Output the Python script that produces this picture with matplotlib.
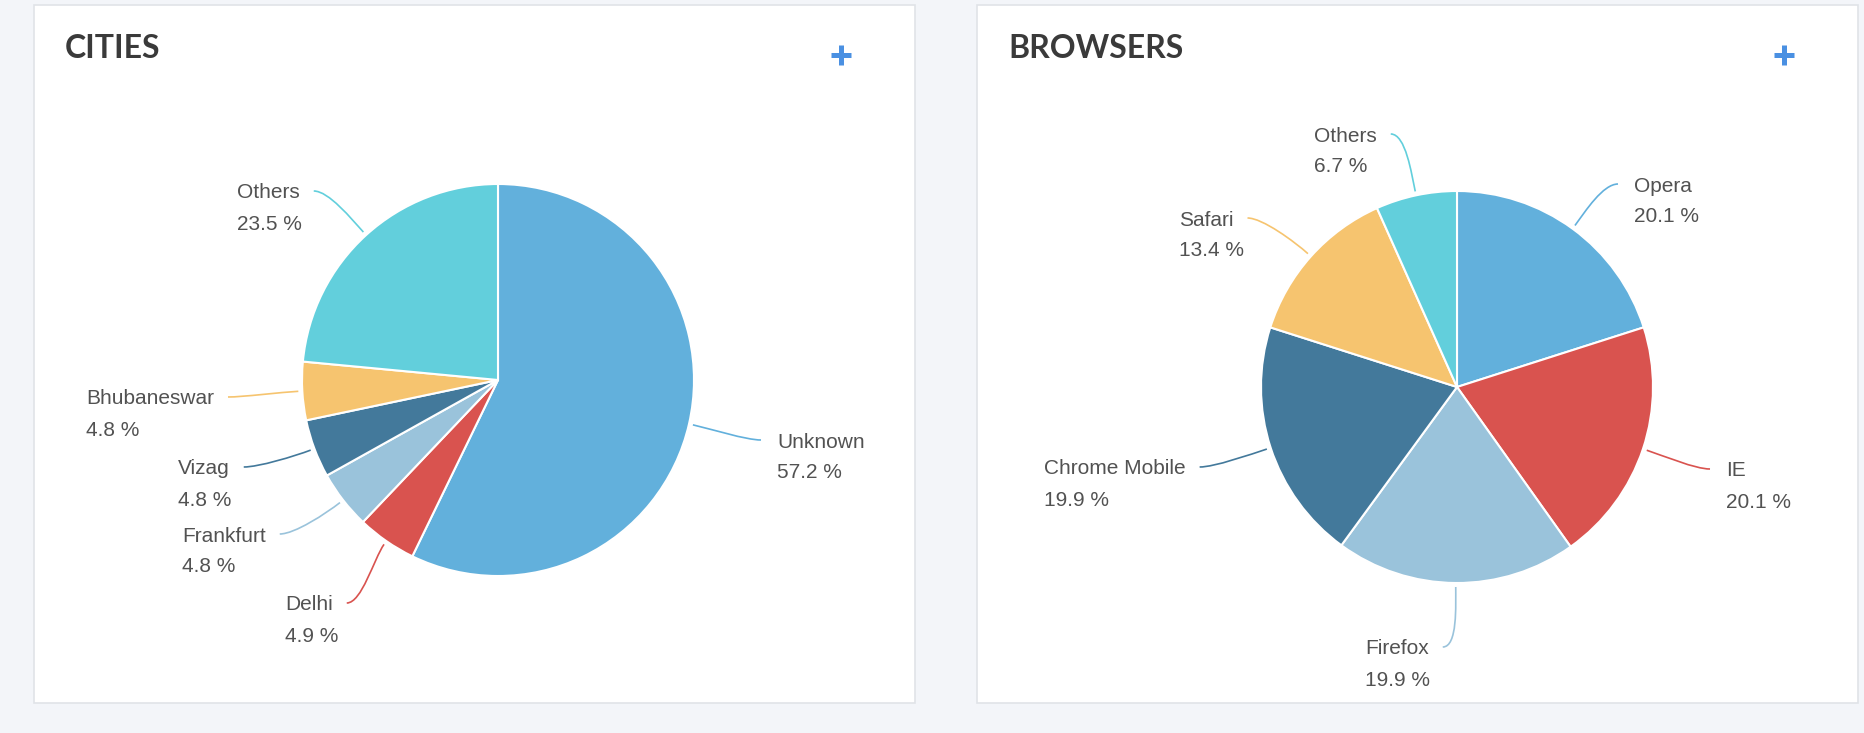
#!/usr/bin/env python3
"""Dashboard cards: cities and browsers share as pie charts."""

import numpy as np
import matplotlib.pyplot as plt
from matplotlib.patches import Rectangle, PathPatch
from matplotlib.path import Path

plt.rcParams['font.family'] = ['Liberation Sans', 'DejaVu Sans']

# Data
city_names = ['Unknown', 'Delhi', 'Frankfurt', 'Vizag', 'Bhubaneswar', 'Others']
city_share = [57.2, 4.9, 4.8, 4.8, 4.8, 23.5]

browser_names = ['Opera', 'IE', 'Firefox', 'Chrome Mobile', 'Safari', 'Others']
browser_share = [20.1, 20.1, 19.9, 19.9, 13.4, 6.7]

slice_colors = ['#62b0dc', '#d9534f', '#9ac3db', '#43799b', '#f6c46f', '#62cfdc']

# Layout (pixels, y down): label text left x and first-line centre y
city_label_pos = [(777, 442), (285, 605), (182, 536), (178, 469), (86, 399), (237, 193)]
browser_label_pos = [(1634, 186), (1726, 471), (1365, 649), (1044, 469), (1179, 220), (1314, 136)]

W, H = 1865, 733
RADIUS = 196
LINE_GAP = 31
LABEL_COLOR = '#525252'
PLUS_COLOR = '#4a90e2'

fig = plt.figure(figsize=(W / 100, H / 100), dpi=100, facecolor='#f3f5f9')
ax = fig.add_axes([0, 0, 1, 1])
ax.set_xlim(0, W)
ax.set_ylim(H, 0)
renderer = fig.canvas.get_renderer()


def draw_card(x0, x1, title, names, shares, center, label_pos):
    # card background
    ax.add_patch(Rectangle((x0, 5), x1 - x0, 698, facecolor='white',
                           edgecolor='#e0e3e8', linewidth=1.2, zorder=0))
    ax.text(x0 + 31, 49, title, family='Lato', weight='bold', fontsize=23,
            color='#3a3a3a', ha='left', va='center')
    px = x0 + 807
    ax.plot([px - 10, px + 10], [55, 55], color=PLUS_COLOR, lw=3.6, solid_capstyle='butt')
    ax.plot([px, px], [45, 65], color=PLUS_COLOR, lw=3.6, solid_capstyle='butt')

    # y axis is inverted, so start at -90 and go counterclockwise in data = clockwise on screen
    ax.pie(shares, colors=slice_colors, startangle=-90, counterclock=True,
           center=center, radius=RADIUS, frame=True,
           wedgeprops=dict(edgecolor='white', linewidth=1.5))

    total = float(sum(shares))
    cum = np.cumsum([0] + list(shares))[:-1]
    inv = ax.transData.inverted()
    for i, (name, val) in enumerate(zip(names, shares)):
        theta = np.deg2rad(360 * (cum[i] + val / 2) / total)
        dx, dy = np.sin(theta), -np.cos(theta)
        anchor = np.array([center[0] + (RADIUS + 4) * dx, center[1] + (RADIUS + 4) * dy])

        tx, ty = label_pos[i]
        t1 = ax.text(tx, ty, name, fontsize=15, color=LABEL_COLOR, ha='left', va='center')
        ax.text(tx, ty + LINE_GAP, f'{val} %', fontsize=15, color=LABEL_COLOR,
                ha='left', va='center')

        if dx > 0:
            end = np.array([tx - 16, ty - 2])
            side = 1
        else:
            bb = t1.get_window_extent(renderer)
            right = inv.transform((bb.x1, bb.y0))[0]
            end = np.array([right + 14, ty - 2])
            side = -1
        p1 = anchor + 18 * np.array([dx, dy])
        p2 = end - side * np.array([15, 0])
        path = Path([anchor, p1, p2, end],
                    [Path.MOVETO, Path.CURVE4, Path.CURVE4, Path.CURVE4])
        ax.add_patch(PathPatch(path, facecolor='none', edgecolor=slice_colors[i], lw=1.2))


draw_card(34, 915, 'CITIES', city_names, city_share, (498, 380), city_label_pos)
draw_card(977, 1858, 'BROWSERS', browser_names, browser_share, (1457, 387), browser_label_pos)

ax.set_xlim(0, W)
ax.set_ylim(H, 0)
ax.axis('off')

plt.savefig('out.png', dpi=100, facecolor=fig.get_facecolor())
